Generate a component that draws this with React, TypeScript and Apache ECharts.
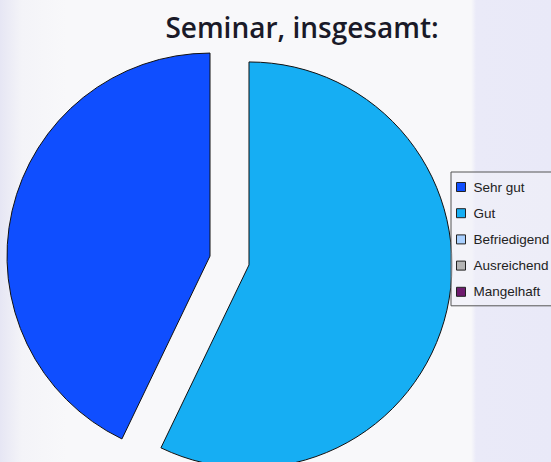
import React, { useEffect, useRef } from "react";
import * as echarts from "echarts";

const categories = ["Sehr gut", "Gut", "Befriedigend", "Ausreichend", "Mangelhaft"];
const values = [3, 4, 0, 0, 0];
const colors = ["#0F4EFF", "#16AEF3", "#A9D0FF", "#B4B4B4", "#6E1B6E"];
const titleText = "Seminar, insgesamt:";

export default function App() {
  const ref = useRef<HTMLDivElement>(null);
  useEffect(() => {
    if (!ref.current) return;
    const chart = echarts.init(ref.current, null, { renderer: "svg" });
    chart.setOption({
      animation: false,
      backgroundColor: {
        type: "linear",
        x: 0, y: 0, x2: 1, y2: 0,
        colorStops: [
          { offset: 0, color: "#E6E6F4" },
          { offset: 0.04, color: "#F4F4F8" },
          { offset: 0.12, color: "#F8F8FA" },
          { offset: 0.855, color: "#F8F8FA" },
          { offset: 0.864, color: "#EAEAF8" },
          { offset: 1, color: "#E9E9F8" },
        ],
      },
      title: {
        text: titleText,
        left: 297,
        textAlign: "center",
        top: 8,
        textStyle: {
          fontFamily: "Open Sans",
          fontSize: 28,
          fontWeight: 600,
          color: "#1A1A28",
        },
      },
      legend: {
        orient: "vertical",
        left: 451,
        top: 172,
        padding: [8, 40, 7, 5],
        itemWidth: 9,
        itemHeight: 9,
        itemGap: 12.2,
        borderColor: "#555",
        borderWidth: 1,
        backgroundColor: "rgba(240,240,248,0.6)",
        icon: "rect",
        data: categories,
        selectedMode: false,
        itemStyle: { borderColor: "#222", borderWidth: 1 },
        textStyle: {
          fontFamily: "Liberation Sans",
          fontSize: 13.5,
          color: "#222",
          padding: [0, 0, 0, 3],
        },
      },
      series: [
        {
          type: "pie",
          center: [229.5, 260.5],
          radius: 203,
          startAngle: 90,
          clockwise: false,
          selectedMode: "multiple",
          selectedOffset: 20,
          label: { show: false },
          labelLine: { show: false },
          emphasis: { disabled: true },
          itemStyle: { borderColor: "#111", borderWidth: 1 },
          data: categories.map((name, i) => ({
            name,
            value: values[i],
            selected: values[i] > 0,
            itemStyle: {
              color: colors[i],
              borderWidth: values[i] > 0 ? 1 : 0,
              borderColor: "#111",
            },
          })),
        },
      ],
    });
    return () => chart.dispose();
  }, []);
  return (
    <div
      ref={ref}
      style={{ position: "fixed", left: 0, top: 0, width: 551, height: 462 }}
    />
  );
}
